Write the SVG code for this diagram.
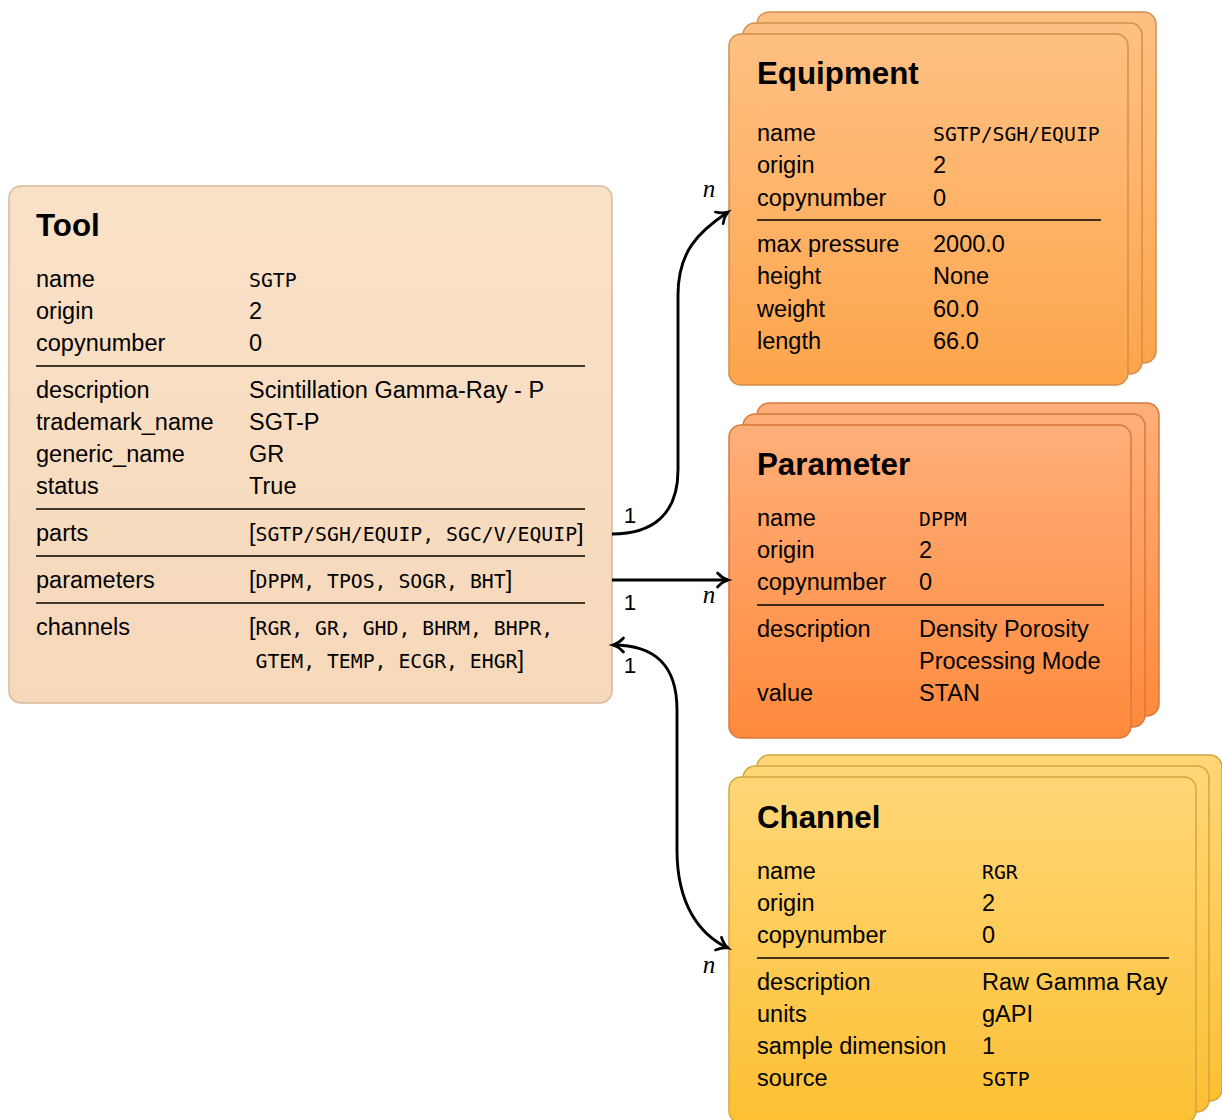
<svg xmlns="http://www.w3.org/2000/svg" width="1222" height="1120" viewBox="0 0 1222 1120">
<style>
text{font-family:"Liberation Sans",Arial,sans-serif;fill:#000}
.t{font-size:31.3px;font-weight:bold}
.l{font-size:23.5px}
.m{font-family:"DejaVu Sans Mono","Liberation Mono",monospace;font-size:19.8px}
.rule{stroke:#000;stroke-width:1.4}
.eq{fill:url(#gEq);stroke:#d28f4b;stroke-width:1.5}
.pa{fill:url(#gPa);stroke:#d67a3c;stroke-width:1.5}
.ch{fill:url(#gCh);stroke:#d3a73c;stroke-width:1.5}
.conn{fill:none;stroke:#000;stroke-width:2.9}
.card{font-size:22.5px}
.n{font-family:"Liberation Serif","Times New Roman",serif;font-style:italic;font-size:25px}
</style>
<defs>
<linearGradient id="gTool" x1="0" y1="0" x2="0" y2="1"><stop offset="0" stop-color="#f9e1c8"/><stop offset="1" stop-color="#f6d8ba"/></linearGradient>
<linearGradient id="gEq" x1="0" y1="0" x2="0" y2="1"><stop offset="0" stop-color="#ffc083"/><stop offset="1" stop-color="#fda54b"/></linearGradient>
<linearGradient id="gPa" x1="0" y1="0" x2="0" y2="1"><stop offset="0" stop-color="#ffae7a"/><stop offset="1" stop-color="#ff8a3c"/></linearGradient>
<linearGradient id="gCh" x1="0" y1="0" x2="0" y2="1"><stop offset="0" stop-color="#ffd677"/><stop offset="1" stop-color="#fdc034"/></linearGradient>
<marker id="arr" viewBox="-13 -8 15 16" refX="0" refY="0" markerWidth="15" markerHeight="16" markerUnits="userSpaceOnUse" orient="auto-start-reverse" overflow="visible">
<path d="M-10.5,-7 C-7,-3.2 -2.6,-0.8 0,0 C-2.6,0.8 -7,3.2 -10.5,7" fill="none" stroke="#000" stroke-width="2.7" stroke-linecap="round"/>
</marker>
</defs>

<g id="tool">
<rect x="9" y="186" width="603" height="517" rx="12" fill="url(#gTool)" stroke="#d8b898" stroke-width="1.5"/>
<text class="t" x="36" y="236">Tool</text>
<text class="l" x="36" y="287">name</text><text class="m" x="249" y="287">SGTP</text>
<text class="l" x="36" y="319">origin</text><text class="l" x="249" y="319">2</text>
<text class="l" x="36" y="351">copynumber</text><text class="l" x="249" y="351">0</text>
<line class="rule" x1="36" y1="366" x2="585" y2="366"/>
<text class="l" x="36" y="398">description</text><text class="l" x="249" y="398">Scintillation Gamma-Ray - P</text>
<text class="l" x="36" y="430">trademark_name</text><text class="l" x="249" y="430">SGT-P</text>
<text class="l" x="36" y="462">generic_name</text><text class="l" x="249" y="462">GR</text>
<text class="l" x="36" y="494">status</text><text class="l" x="249" y="494">True</text>
<line class="rule" x1="36" y1="509" x2="585" y2="509"/>
<text class="l" x="36" y="541">parts</text><text class="l" x="249" y="541">[<tspan class="m">SGTP/SGH/EQUIP, SGC/V/EQUIP</tspan>]</text>
<line class="rule" x1="36" y1="556" x2="585" y2="556"/>
<text class="l" x="36" y="588">parameters</text><text class="l" x="249" y="588">[<tspan class="m">DPPM, TPOS, SOGR, BHT</tspan>]</text>
<line class="rule" x1="36" y1="603" x2="585" y2="603"/>
<text class="l" x="36" y="635">channels</text><text class="l" x="249" y="635">[<tspan class="m">RGR, GR, GHD, BHRM, BHPR,</tspan></text>
<text class="l" x="255.5" y="668"><tspan class="m">GTEM, TEMP, ECGR, EHGR</tspan>]</text>
</g>

<g id="equipment">
<rect class="eq" x="757" y="12" width="399" height="351" rx="12"/>
<rect class="eq" x="743" y="23" width="399" height="351" rx="12"/>
<rect class="eq" x="729" y="34" width="399" height="351" rx="12"/>
<text class="t" x="757" y="84">Equipment</text>
<text class="l" x="757" y="141">name</text><text class="m" x="933" y="141">SGTP/SGH/EQUIP</text>
<text class="l" x="757" y="173">origin</text><text class="l" x="933" y="173">2</text>
<text class="l" x="757" y="206">copynumber</text><text class="l" x="933" y="206">0</text>
<line class="rule" x1="757" y1="220" x2="1101" y2="220"/>
<text class="l" x="757" y="252">max pressure</text><text class="l" x="933" y="252">2000.0</text>
<text class="l" x="757" y="284">height</text><text class="l" x="933" y="284">None</text>
<text class="l" x="757" y="317">weight</text><text class="l" x="933" y="317">60.0</text>
<text class="l" x="757" y="349">length</text><text class="l" x="933" y="349">66.0</text>
</g>

<g id="parameter">
<rect class="pa" x="757" y="403" width="402" height="313" rx="12"/>
<rect class="pa" x="743" y="414" width="402" height="313" rx="12"/>
<rect class="pa" x="729" y="425" width="402" height="313" rx="12"/>
<text class="t" x="757" y="475">Parameter</text>
<text class="l" x="757" y="526">name</text><text class="m" x="919" y="526">DPPM</text>
<text class="l" x="757" y="558">origin</text><text class="l" x="919" y="558">2</text>
<text class="l" x="757" y="590">copynumber</text><text class="l" x="919" y="590">0</text>
<line class="rule" x1="757" y1="605" x2="1104" y2="605"/>
<text class="l" x="757" y="637">description</text><text class="l" x="919" y="637">Density Porosity</text>
<text class="l" x="919" y="669">Processing Mode</text>
<text class="l" x="757" y="701">value</text><text class="l" x="919" y="701">STAN</text>
</g>

<g id="channel">
<rect class="ch" x="757" y="755" width="465" height="346" rx="12"/>
<rect class="ch" x="743" y="766" width="466" height="346" rx="12"/>
<rect class="ch" x="729" y="777" width="467" height="346" rx="12"/>
<text class="t" x="757" y="828">Channel</text>
<text class="l" x="757" y="879">name</text><text class="m" x="982" y="879">RGR</text>
<text class="l" x="757" y="911">origin</text><text class="l" x="982" y="911">2</text>
<text class="l" x="757" y="943">copynumber</text><text class="l" x="982" y="943">0</text>
<line class="rule" x1="757" y1="958" x2="1169" y2="958"/>
<text class="l" x="757" y="990">description</text><text class="l" x="982" y="990">Raw Gamma Ray</text>
<text class="l" x="757" y="1022">units</text><text class="l" x="982" y="1022">gAPI</text>
<text class="l" x="757" y="1054">sample dimension</text><text class="l" x="982" y="1054">1</text>
<text class="l" x="757" y="1086">source</text><text class="m" x="982" y="1086">SGTP</text>
</g>

<g id="connectors">
<path class="conn" d="M612,534 C652,534 678,515 678,470 L678,295 C678,252 698,232 728,212" marker-end="url(#arr)"/>
<path class="conn" d="M612,580 L728,580" marker-end="url(#arr)"/>
<path class="conn" d="M613,645 C655,645 677,665 677,710 L677,850 C677,905 700,935 728,948" marker-start="url(#arr)" marker-end="url(#arr)"/>
<text class="card" x="630" y="523" text-anchor="middle">1</text>
<text class="card" x="630" y="610" text-anchor="middle">1</text>
<text class="card" x="630" y="673" text-anchor="middle">1</text>
<text class="n" x="709" y="197" text-anchor="middle">n</text>
<text class="n" x="709" y="603" text-anchor="middle">n</text>
<text class="n" x="709" y="973" text-anchor="middle">n</text>
</g>
</svg>
